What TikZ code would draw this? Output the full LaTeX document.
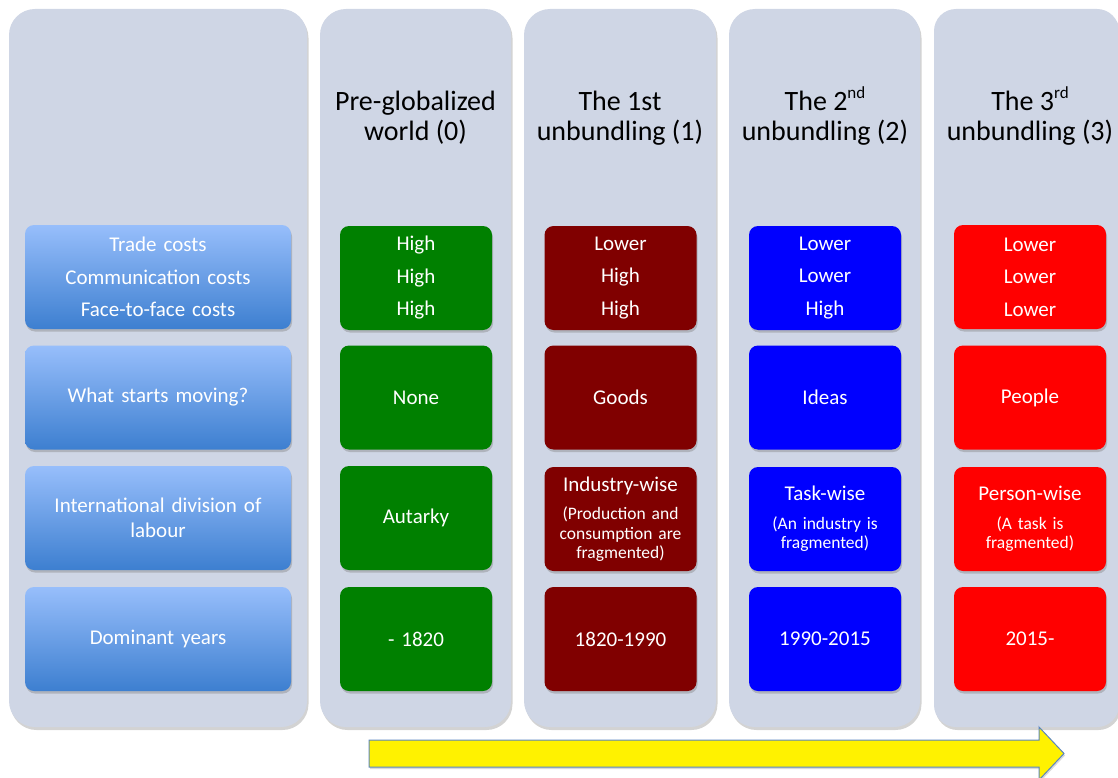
\documentclass[tikz,border=0pt]{standalone}
\usepackage{fontspec}
\setmainfont{Carlito}
\usetikzlibrary{shadows,shapes.arrows}
\definecolor{colbg}{HTML}{CFD6E5}
\definecolor{ltop}{HTML}{97BEFB}
\definecolor{lbot}{HTML}{3D7FD0}
\definecolor{cgreen}{HTML}{008000}
\definecolor{cmaroon}{HTML}{800000}
\definecolor{cblue}{HTML}{0000FF}
\definecolor{cred}{HTML}{FF0000}
\definecolor{arrowline}{HTML}{5B86C0}
\newcommand{\hdrfont}{\fontsize{28}{30}\selectfont}
\newcommand{\cellfont}{\fontsize{21}{32.5}\selectfont}
\newcommand{\smfont}{\fontsize{17.5}{19.5}\selectfont}
\newcommand{\supx}[1]{\smash{\raisebox{0.9ex}{\fontsize{17}{17}\selectfont #1}}}
\tikzset{
  colbox/.style={fill=colbg, rounded corners=26pt, drop shadow={opacity=0.35, shadow xshift=1.5pt, shadow yshift=-3pt}},
  cellbox/.style={rounded corners=9pt, minimum height=104pt, inner sep=0pt, align=center, text=white, font=\cellfont,
    drop shadow={opacity=0.4, shadow xshift=1pt, shadow yshift=-2.5pt}},
  leftcell/.style={cellbox, minimum width=266pt, text width=262pt, top color=ltop, bottom color=lbot, shading angle=0},
  datacell/.style={cellbox, minimum width=152pt, text width=150pt},
  hdr/.style={align=center, font=\hdrfont, text=black},
}
\begin{document}
\begin{tikzpicture}[x=1pt,y=-1pt]
\useasboundingbox (0,0) rectangle (1118,778);
\clip (0,0) rectangle (1118,778);
% column backgrounds
\path[colbox] (9,9) rectangle (307,727);
\path[colbox] (320,9) rectangle (511,727);
\path[colbox] (524,9) rectangle (716,727);
\path[colbox] (729,9) rectangle (920,727);
\path[colbox, rounded corners=22pt] (934,9) rectangle (1119,727);
% headers
\node[hdr] (h0) at (415.5,118) {Pre-globalized\\world (0)};
\node[hdr] (h1) at (620,118) {The 1st\\unbundling (1)};
\node[hdr] (h2) at (825,118) {The 2\supx{nd}\\unbundling (2)};
\node[hdr] (h3) at (1030,118) {The 3\supx{rd}\\unbundling (3)};
% left labels
\node[leftcell] (l1) at (158,277) {Trade costs\\Communication costs\\Face-to-face costs};
\node[leftcell] (l2) at (158,397.5) {What starts moving?};
\node[leftcell, font=\fontsize{21}{25}\selectfont] (l3) at (158,518) {International division of\\labour};
\node[leftcell] (l4) at (158,639) {Dominant years};
% column 0
\node[datacell, fill=cgreen] (a1) at (416,278) {High\\High\\High};
\node[datacell, fill=cgreen] (a2) at (416,397.5) {None};
\node[datacell, fill=cgreen] (a3) at (416,518) {Autarky};
\node[datacell, fill=cgreen] (a4) at (416,639) {- 1820};
% column 1
\node[datacell, fill=cmaroon] (b1) at (620.5,278) {Lower\\High\\High};
\node[datacell, fill=cmaroon] (b2) at (620.5,397.5) {Goods};
\node[datacell, fill=cmaroon, font=\smfont] (b3) at (620.5,519) {{\cellfont Industry-wise}\\[9pt](Production and\\consumption are\\fragmented)};
\node[datacell, fill=cmaroon] (b4) at (620.5,639) {1820-1990};
% column 2
\node[datacell, fill=cblue] (c1) at (825,278) {Lower\\Lower\\High};
\node[datacell, fill=cblue] (c2) at (825,397.5) {Ideas};
\node[datacell, fill=cblue, font=\smfont] (c3) at (825,519) {{\cellfont Task-wise}\\[9pt](An industry is\\fragmented)};
\node[datacell, fill=cblue] (c4) at (825,639) {1990-2015};
% column 3
\node[datacell, fill=cred] (d1) at (1030,277) {Lower\\Lower\\Lower};
\node[datacell, fill=cred] (d2) at (1030,397.5) {People};
\node[datacell, fill=cred, font=\smfont] (d3) at (1030,519) {{\cellfont Person-wise}\\[9pt](A task is\\fragmented)};
\node[datacell, fill=cred] (d4) at (1030,639) {2015-};
% arrow
\coordinate (arrT) at (1064,753.5);
\path[fill=yellow, draw=arrowline, line width=1pt, line join=miter,
      drop shadow={opacity=0.3, shadow xshift=1pt, shadow yshift=-2pt}]
  (369,740) -- (1039,740) -- (1039,727) -- (arrT) -- (1039,780) -- (1039,767) -- (369,767) -- cycle;
\end{tikzpicture}
\end{document}
